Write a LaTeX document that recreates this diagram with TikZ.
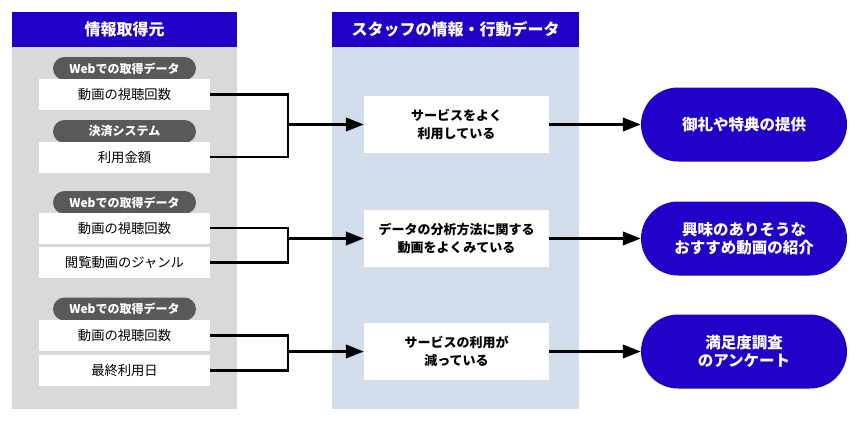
\documentclass[tikz,border=0pt]{standalone}
\usepackage{fontspec}
\setmainfont{Noto Sans CJK JP}
\usetikzlibrary{arrows.meta, positioning}
\definecolor{headblue}{RGB}{34,0,200}
\definecolor{srcgray}{RGB}{217,217,217}
\definecolor{staffblue}{RGB}{209,221,235}
\definecolor{taggray}{RGB}{89,89,89}

\tikzset{
  colhead/.style={fill=headblue, text=white, font=\bfseries\fontsize{16}{18}\selectfont,
    minimum height=35pt, inner sep=0pt, anchor=north west},
  tagpill/.style={fill=taggray, text=white, font=\bfseries\fontsize{12}{14}\selectfont,
    minimum width=143pt, minimum height=23pt, inner sep=0pt, rounded corners=11.5pt},
  srcbox/.style={fill=white, font=\fontsize{13.3}{16}\selectfont,
    minimum width=171pt, minimum height=31pt, inner sep=0pt},
  midbox/.style={fill=white, font=\bfseries\fontsize{13}{18}\selectfont, align=center,
    minimum width=185pt, minimum height=57pt, inner sep=0pt},
  outpill/.style={fill=headblue, text=white, font=\bfseries\fontsize{15.5}{18.5}\selectfont,
    align=center, minimum width=206pt, minimum height=74pt, inner sep=0pt,
    rounded corners=37pt},
  link/.style={line width=2.5pt, line join=miter}
}

\begin{document}
\begin{tikzpicture}[x=1pt,y=-1pt,>={Triangle[length=18pt,width=13.5pt]}]
  \useasboundingbox (0,0) rectangle (864,423);
  \def\srcx{124.5}
  \def\midx{456.5}
  \def\outx{744}

  % Columns
  \fill[srcgray] (12,47) rectangle (237,409);
  \fill[staffblue] (332,47) rectangle (579,409);
  \node[colhead, minimum width=225pt] (srchead) at (12,12) {情報取得元};
  \node[colhead, minimum width=247pt] (staffhead) at (332,12) {スタッフの情報・行動データ};

  % Source data
  \node[tagpill] (tag1) at (\srcx,68.5) {Webでの取得データ};
  \node[srcbox] (src1) at (\srcx,94.5) {動画の視聴回数};
  \node[tagpill] (tag2) at (\srcx,131.5) {決済システム};
  \node[srcbox] (src2) at (\srcx,157) {利用金額};

  \node[tagpill] (tag3) at (\srcx,202.5) {Webでの取得データ};
  \node[srcbox] (src3) at (\srcx,228) {動画の視聴回数};
  \node[srcbox] (src4) at (\srcx,262.5) {閲覧動画のジャンル};

  \node[tagpill] (tag4) at (\srcx,309) {Webでの取得データ};
  \node[srcbox] (src5) at (\srcx,335.5) {動画の視聴回数};
  \node[srcbox] (src6) at (\srcx,370.5) {最終利用日};

  % Staff behaviour
  \node[midbox] (mid1) at (\midx,124.5) {サービスをよく\\利用している};
  \node[midbox] (mid2) at (\midx,238.5) {データの分析方法に関する\\動画をよくみている};
  \node[midbox] (mid3) at (\midx,351.5) {サービスの利用が\\減っている};

  % Actions
  \node[outpill] (out1) at (\outx,124.5) {御礼や特典の提供};
  \node[outpill] (out2) at (\outx,238.5) {興味のありそうな\\おすすめ動画の紹介};
  \node[outpill] (out3) at (\outx,351.5) {満足度調査\\のアンケート};

  % Brackets
  \path (mid1.west) ++(-76,0) coordinate (join1);
  \path (mid2.west) ++(-76,0) coordinate (join2);
  \path (mid3.west) ++(-76,0) coordinate (join3);
  \draw[link] (src1.east) -| (join1) |- (src2.east);
  \draw[link] (src3.east) -| (join2) |- (src4.east);
  \draw[link] (src5.east) -| (join3) |- (src6.east);
  \draw[link, ->] (join1) -- (mid1.west);
  \draw[link, ->] (join2) -- (mid2.west);
  \draw[link, ->] (join3) -- (mid3.west);

  % Outputs
  \draw[link, ->] (mid1.east) -- (out1.west);
  \draw[link, ->] (mid2.east) -- (out2.west);
  \draw[link, ->] (mid3.east) -- (out3.west);
\end{tikzpicture}
\end{document}
